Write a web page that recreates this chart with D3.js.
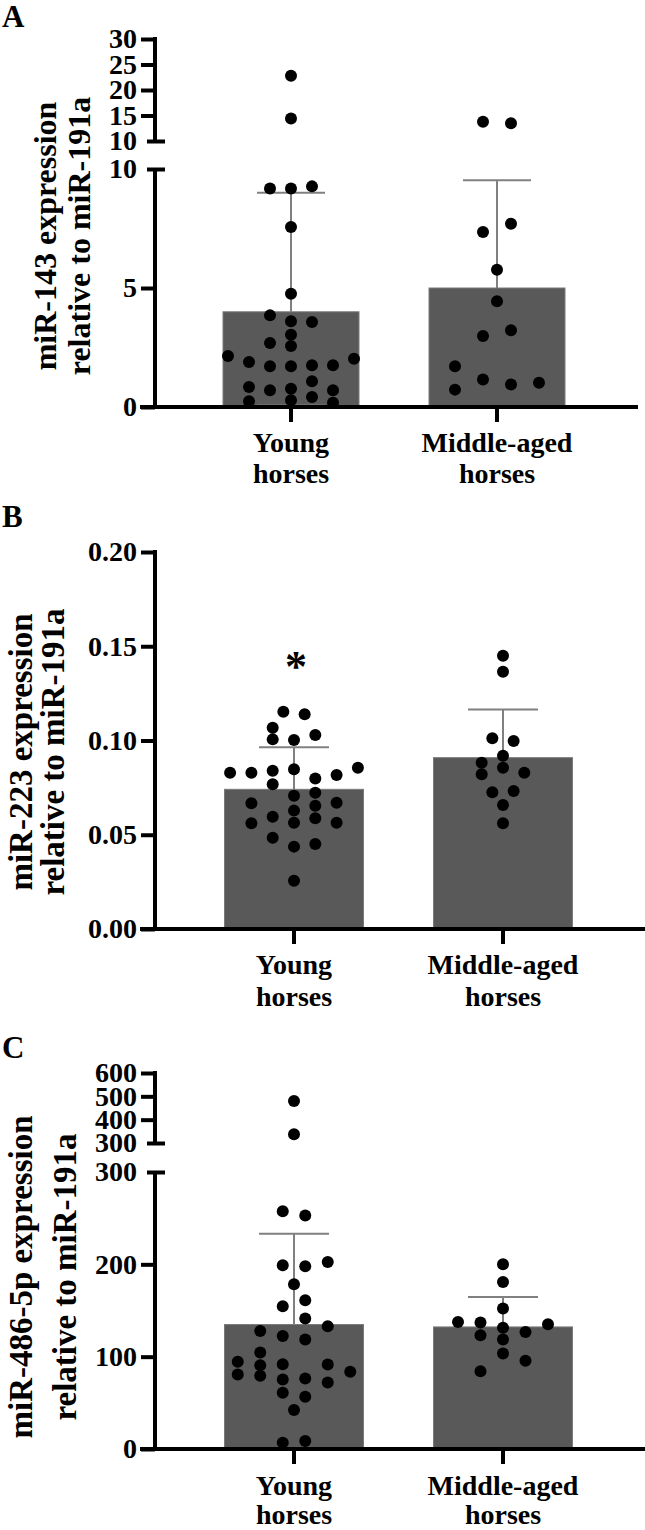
<!DOCTYPE html>
<html><head><meta charset="utf-8">
<script src="https://cdn.jsdelivr.net/npm/d3@7"></script>
<style>
body{margin:0;background:#fff}
svg{display:block}
text{font-family:"Liberation Serif","Times New Roman",serif;font-weight:bold;fill:#000}
</style>
</head><body>
<svg id="c" width="645" height="1530"></svg>
<script>
// ---------- data ----------
const categories = ["Young horses", "Middle-aged horses"];
const categoryLines = [["Young", "horses"], ["Middle-aged", "horses"]];

// Panel A : miR-143
const aMeans = [4.0, 5.0];
const aSdTop = [9.0, 9.53];
const aSdLow = [0, null];
const aYoung = [22.8, 14.4, 9.18, 9.18, 9.27, 7.56, 4.76, 3.85, 3.60, 3.57, 3.04, 2.69, 2.56, 2.14, 2.03, 1.89, 1.71, 1.71, 1.75, 1.75, 1.08, 0.84, 0.70, 0.77, 0.70, 0.42, 0.24, 0.28, 0.18];
const aYoungCol = [0, 0, -3, 0, 3, 0, 0, -3, 0, 3, 0, -3, 0, -9, 9, -6, -3, 0, 3, 6, 3, -6, -3, 0, 6, 3, -6, 0, 6];
const aMid = [13.78, 13.47, 7.35, 7.70, 5.77, 4.44, 2.98, 3.22, 1.71, 0.73, 1.16, 0.95, 1.02];
const aMidCol = [-2, 2, -2, 2, 0, 0, -2, 2, -6, -6, -2, 2, 6];
const aLowTicks = [0, 5, 10];
const aHighTicks = [10, 15, 20, 25, 30];

// Panel B : miR-223
const bMeans = [0.0741, 0.0909];
const bSdTop = [0.0964, 0.1165];
const bSdLow = [null, null];
const bYoung = [0.1153, 0.1139, 0.1068, 0.1006, 0.1003, 0.1029, 0.0829, 0.0829, 0.0840, 0.0847, 0.0799, 0.0817, 0.0856, 0.0768, 0.0707, 0.0723, 0.0667, 0.0670, 0.0628, 0.0654, 0.0596, 0.0564, 0.0587, 0.0561, 0.0564, 0.0484, 0.0437, 0.0451, 0.0256];
const bYoungCol = [-1.5, 1.5, -3, -3, 0, 3, -9, -6, -3, 0, 3, 6, 9, -3, 0, 3, -6, 6, 0, 3, -3, 0, 3, -6, 6, -3, 0, 3, 0];
const bMid = [0.145, 0.1365, 0.1012, 0.0997, 0.0919, 0.0882, 0.0821, 0.0856, 0.0829, 0.0725, 0.0732, 0.0658, 0.0561];
const bMidCol = [0, 0, -1.5, 1.5, 0, -3, -3, 0, 3, -1.5, 1.5, 0, 0];
const bTicks = [0, 0.05, 0.10, 0.15, 0.20];
const bSignificance = ["*", ""];

// Panel C : miR-486-5p
const cMeans = [134.8, 132.2];
const cSdTop = [233.2, 164.6];
const cSdLow = [null, null];
const cYoung = [480, 337, 257.6, 253, 198.9, 197.8, 202.5, 178.4, 161.1, 154.6, 141.3, 133.0, 127.9, 122.5, 118.6, 104.5, 94.4, 90.8, 91.9, 91.5, 80.7, 79.3, 83.6, 75.3, 76.4, 72.1, 60.9, 56.6, 42.2, 6.9, 8.7];
const cYoungCol = [0, 0, -1.5, 1.5, -1.5, 1.5, 4.5, 0, 1.5, -1.5, 1.5, 4.5, -4.5, -1.5, 1.5, -4.5, -7.5, -4.5, -1.5, 4.5, -7.5, -4.5, 7.5, -1.5, 1.5, 4.5, -1.5, 1.5, 0, -1.5, 1.5];
const cMid = [200, 180.9, 152.1, 137.6, 137.0, 131.2, 135.1, 123.2, 126.8, 118.6, 103.5, 95.5, 84.3];
const cMidCol = [0, 0, 0, -6, -3, 0, 6, -3, 3, 0, 0, 3, -3];
const cLowTicks = [0, 100, 200, 300];
const cHighTicks = [300, 400, 500, 600];

// ---------- drawing ----------
const svg = d3.select("#c");
const AXIS_X = 155;
const BAR_FILL = "#595959";
const ERR = "#808080";

function drawPanel(p) {
  const g = svg.append("g");
  const x = d3.scalePoint().domain(categories).range(p.xCenters);
  const yLow = d3.scaleLinear().domain(p.lowDomain).range(p.lowRange);
  const yHigh = p.highDomain ? d3.scaleLinear().domain(p.highDomain).range(p.highRange) : null;
  const yv = v => (yHigh && v > p.lowDomain[1]) ? yHigh(v) : yLow(v);
  const col = d3.scaleLinear().domain([0, 1]).range([0, p.colUnit]);
  const y0 = yLow(0);

  // error bar stems and caps (behind bars)
  categories.forEach((c, i) => {
    const cx = x(c);
    g.append("line").attr("x1", cx).attr("x2", cx)
      .attr("y1", yLow(p.means[i])).attr("y2", yv(p.sdTop[i]))
      .attr("stroke", ERR).attr("stroke-width", 2);
    g.append("line").attr("x1", cx - p.capW / 2).attr("x2", cx + p.capW / 2)
      .attr("y1", yv(p.sdTop[i])).attr("y2", yv(p.sdTop[i]))
      .attr("stroke", ERR).attr("stroke-width", 2);
  });

  // bars
  g.selectAll("rect.bar").data(categories).join("rect").attr("class", "bar")
    .attr("x", c => x(c) - p.barW / 2).attr("width", p.barW)
    .attr("y", (c, i) => yLow(p.means[i]))
    .attr("height", (c, i) => y0 - yLow(p.means[i]))
    .attr("fill", BAR_FILL).attr("stroke", "#7a7a7a").attr("stroke-width", 1);

  // lower caps when visible (clipped at zero)
  categories.forEach((c, i) => {
    if (p.sdLow[i] === null) return;
    const cx = x(c);
    g.append("line").attr("x1", cx - p.capW / 2).attr("x2", cx + p.capW / 2)
      .attr("y1", yLow(p.sdLow[i]) - 1.5).attr("y2", yLow(p.sdLow[i]) - 1.5)
      .attr("stroke", ERR).attr("stroke-width", 2);
  });

  // points
  p.points.forEach((grp, i) => {
    const cx = x(categories[i]);
    g.selectAll(null).data(grp.values).join("circle")
      .attr("cx", (v, k) => cx + col(grp.cols[k]))
      .attr("cy", v => yv(v))
      .attr("r", 6).attr("fill", "#000");
  });

  // significance
  if (p.sig) {
    p.sig.forEach((s, i) => {
      if (!s) return;
      g.append("text").attr("x", x(categories[i]) + 2).attr("y", p.sigY)
        .attr("text-anchor", "middle").style("font-size", "44px").text(s);
    });
  }

  // y axis segments
  function yAxis(scale, ticks, breakTop, breakBottom, fmt) {
    const ax = d3.axisLeft(scale).tickValues(ticks).tickSize(14).tickSizeOuter(0)
      .tickPadding(4).tickFormat(fmt);
    const ga = g.append("g").attr("transform", `translate(${AXIS_X},0)`).call(ax);
    ga.select(".domain").attr("stroke", "#000").attr("stroke-width", 4)
      .attr("d", `M0,${scale.range()[0] + (breakBottom ? 0 : 2)}V${scale.range()[1] - (breakTop ? 0 : 2)}`);
    ga.selectAll(".tick line").attr("stroke", "#000").attr("stroke-width", 4);
    ga.selectAll(".tick text").style("font-size", "28px").attr("fill", "#000");
    const [d0, d1] = scale.domain();
    ga.selectAll(".tick").filter(d => (breakBottom && d === d0) || (breakTop && d === d1))
      .select("line").attr("x1", 10).attr("x2", -8);
  }
  if (yHigh) {
    yAxis(yLow, p.lowTicks, true, false, p.fmt);
    yAxis(yHigh, p.highTicks, false, true, p.fmt);
  } else {
    yAxis(yLow, p.lowTicks, false, false, p.fmt);
  }

  // x axis
  g.append("line").attr("x1", AXIS_X - 15).attr("x2", p.xEnd)
    .attr("y1", y0).attr("y2", y0).attr("stroke", "#000").attr("stroke-width", 4);
  categories.forEach((c, i) => {
    g.append("line").attr("x1", x(c)).attr("x2", x(c)).attr("y1", y0).attr("y2", y0 + 15)
      .attr("stroke", "#000").attr("stroke-width", 4);
    categoryLines[i].forEach((t, j) => {
      g.append("text").attr("x", x(c)).attr("y", y0 + p.labelDy[j])
        .attr("text-anchor", "middle").style("font-size", "28px").text(t);
    });
  });

  // y title
  p.title.forEach((t, j) => {
    g.append("text").attr("transform", `translate(${p.titleX[j]},${p.titleY}) rotate(-90)`)
      .attr("text-anchor", "middle").style("font-size", p.titleSize + "px").text(t);
  });

  // panel letter
  g.append("text").attr("x", 2).attr("y", p.letterY).style("font-size", "31px").text(p.letter);
}

drawPanel({
  letter: "A", letterY: 27,
  xCenters: [291, 497], barW: 136, capW: 68, xEnd: 638, colUnit: 7,
  lowDomain: [0, 10], lowRange: [407, 169], highDomain: [10, 30], highRange: [141, 39],
  lowTicks: aLowTicks, highTicks: aHighTicks, fmt: d3.format("d"),
  means: aMeans, sdTop: aSdTop, sdLow: aSdLow,
  points: [{values: aYoung, cols: aYoungCol}, {values: aMid, cols: aMidCol}],
  title: ["miR-143 expression", "relative to miR-191a"], titleX: [56, 90], titleY: 236, titleSize: 32,
  labelDy: [45, 76]
});

drawPanel({
  letter: "B", letterY: 527,
  xCenters: [294, 503], barW: 139, capW: 70, xEnd: 645, colUnit: 7.1,
  lowDomain: [0, 0.2], lowRange: [929, 552],
  lowTicks: bTicks, fmt: d3.format(".2f"),
  means: bMeans, sdTop: bSdTop, sdLow: bSdLow,
  points: [{values: bYoung, cols: bYoungCol}, {values: bMid, cols: bMidCol}],
  sig: bSignificance, sigY: 681,
  title: ["miR-223 expression", "relative to miR-191a"], titleX: [32, 64], titleY: 752, titleSize: 33,
  labelDy: [45, 77]
});

drawPanel({
  letter: "C", letterY: 1058,
  xCenters: [294, 503], barW: 139, capW: 70, xEnd: 645, colUnit: 7.5,
  lowDomain: [0, 300], lowRange: [1449, 1172], highDomain: [300, 600], highRange: [1143, 1073],
  lowTicks: cLowTicks, highTicks: cHighTicks, fmt: d3.format("d"),
  means: cMeans, sdTop: cSdTop, sdLow: cSdLow,
  points: [{values: cYoung, cols: cYoungCol}, {values: cMid, cols: cMidCol}],
  title: ["miR-486-5p expression", "relative to miR-191a"], titleX: [32, 76], titleY: 1277, titleSize: 33,
  labelDy: [46, 75]
});
</script>
</body></html>
